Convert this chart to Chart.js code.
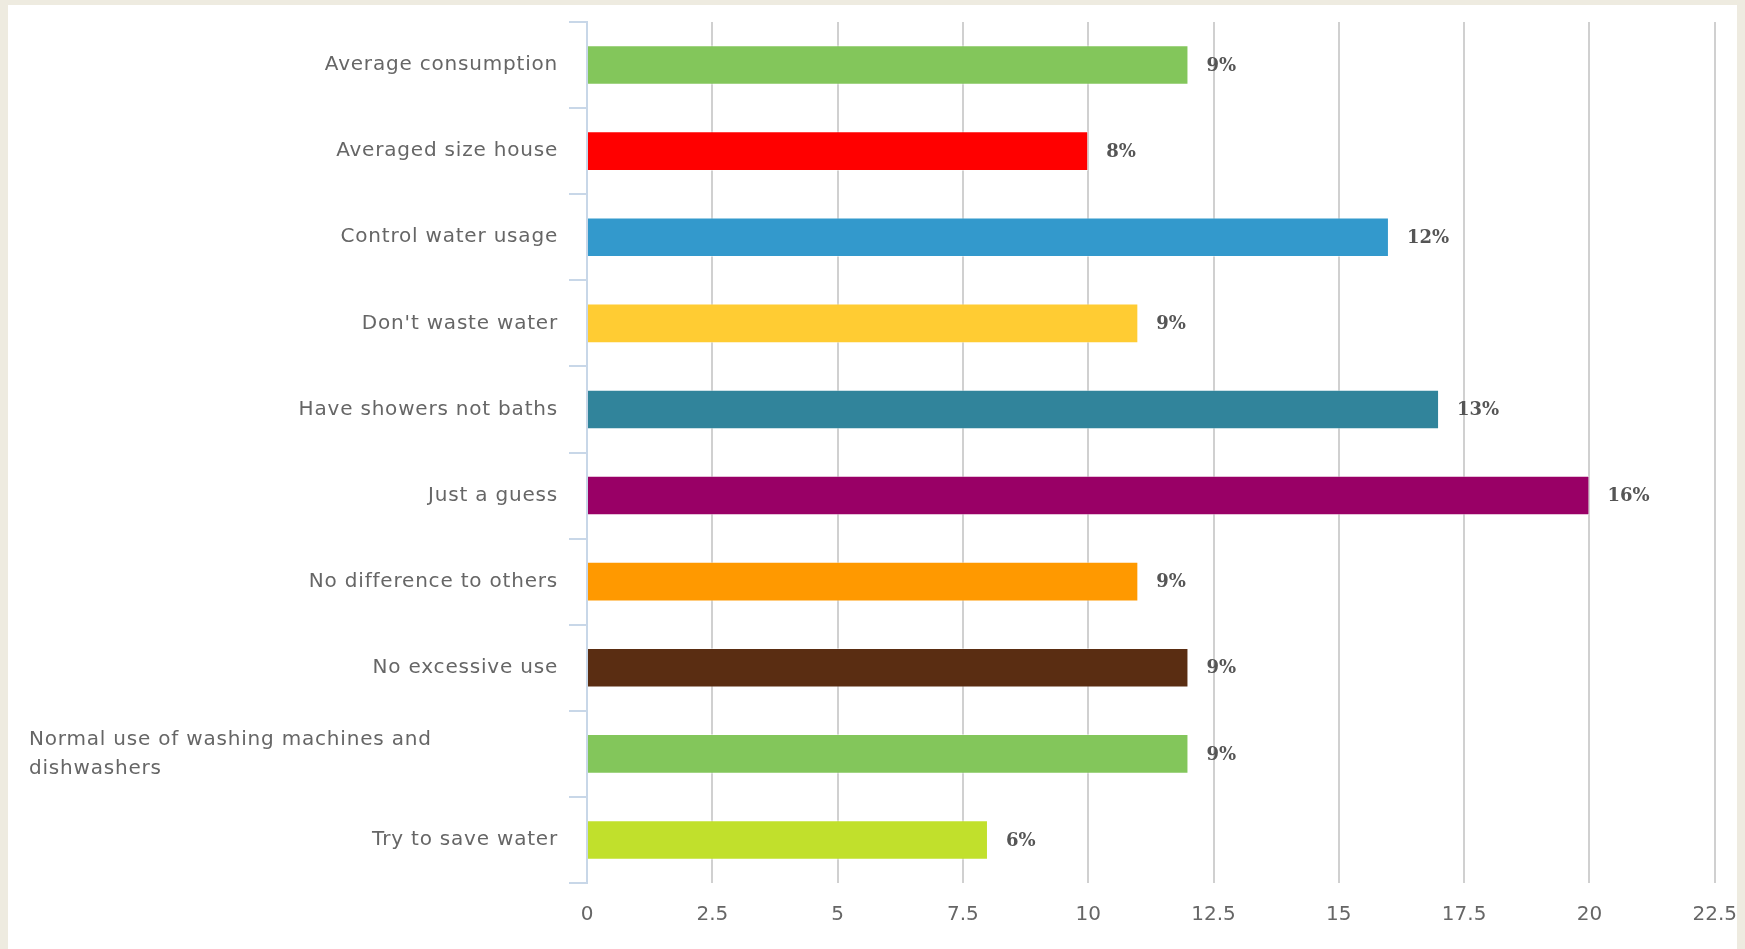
<!DOCTYPE html>
<html>
<head>
<meta charset="utf-8">
<script src="https://cdn.jsdelivr.net/npm/chart.js@4"></script>
<style>
  body { margin: 0; background: #EEEBE0; }
  #panel { position: absolute; left: 8px; top: 5px; width: 1729px; height: 944px; background: #ffffff; }
  canvas { display: block; }
</style>
</head>
<body>
<div id="panel"><canvas id="waterChart" width="1729" height="944"></canvas></div>
<script>
// Chart values
const categories = [
  "Average consumption",
  "Averaged size house",
  "Control water usage",
  "Don't waste water",
  "Have showers not baths",
  "Just a guess",
  "No difference to others",
  "No excessive use",
  ["Normal use of washing machines and", "dishwashers"],
  "Try to save water"
];
const responses = [12, 10, 16, 11, 17, 20, 11, 12, 12, 8];
const shareLabels = ["9%", "8%", "12%", "9%", "13%", "16%", "9%", "9%", "9%", "6%"];
const barColors = ["#83C65B", "#FF0000", "#3399CC", "#FFCC33", "#31849B", "#990066", "#FF9900", "#5A2D12", "#83C65B", "#C1E02C"];
const xTicks = [0, 2.5, 5, 7.5, 10, 12.5, 15, 17.5, 20, 22.5];

// category labels: single lines sit right next to the axis, the wrapped one is left aligned
const categoryLabels = {
  id: "categoryLabels",
  afterDraw(chart) {
    const ctx = chart.ctx;
    const yScale = chart.scales.y;
    ctx.save();
    ctx.font = '20px "DejaVu Sans"';
    ctx.letterSpacing = "0.8px";
    ctx.fillStyle = "#666666";
    ctx.textBaseline = "middle";
    categories.forEach((label, i) => {
      const y = yScale.getPixelForTick(i);
      if (Array.isArray(label)) {
        ctx.textAlign = "left";
        const lh = 29;
        label.forEach((line, j) => {
          ctx.fillText(line, 21, y + (j - (label.length - 1) / 2) * lh);
        });
      } else {
        ctx.textAlign = "right";
        ctx.fillText(label, 550, y);
      }
    });
    ctx.restore();
  }
};

// percentage labels at the end of each bar
const shareText = {
  id: "shareText",
  afterDatasetsDraw(chart) {
    const ctx = chart.ctx;
    const bars = chart.getDatasetMeta(0).data;
    ctx.save();
    ctx.font = 'bold 18px "DejaVu Serif"';
    ctx.fillStyle = "#555555";
    ctx.textAlign = "left";
    ctx.textBaseline = "middle";
    bars.forEach((bar, i) => {
      ctx.fillText(shareLabels[i], bar.x + 18, bar.y + 1);
    });
    ctx.restore();
  }
};

const ctx = document.getElementById("waterChart").getContext("2d");

new Chart(ctx, {
  type: "bar",
  data: {
    labels: categories,
    datasets: [{
      label: "Responses",
      data: responses,
      backgroundColor: barColors,
      borderColor: "rgba(255, 255, 255, 0.45)",
      borderWidth: 1,
      barPercentage: 0.46,
      categoryPercentage: 1.0
    }]
  },
  options: {
    indexAxis: "y",
    responsive: false,
    animation: false,
    devicePixelRatio: 1,
    layout: {
      padding: { top: 17, right: 0, left: 0, bottom: 0 }
    },
    plugins: {
      legend: { display: false },
      tooltip: { enabled: false }
    },
    scales: {
      y: {
        type: "category",
        offset: true,
        grid: {
          display: true,
          drawOnChartArea: false,
          drawTicks: true,
          tickLength: 18,
          offset: true,
          color: "#C8D7E8",
          lineWidth: 2
        },
        border: { display: true, color: "#C8D7E8", width: 2 },
        ticks: { display: false },
        afterFit: function(scale) {
          scale.width = 579;
        }
      },
      x: {
        type: "linear",
        min: 0,
        max: 22.5,
        afterBuildTicks: function(scale) {
          scale.ticks = xTicks.map(v => ({ value: v }));
        },
        grid: {
          color: "#D0D0D0",
          lineWidth: 2,
          drawTicks: true,
          tickLength: 20,
          tickColor: "rgba(0, 0, 0, 0)"
        },
        border: { display: false },
        ticks: {
          color: "#666666",
          font: { family: "DejaVu Sans", size: 20 },
          padding: 0,
          maxRotation: 0,
          autoSkip: false,
          callback: function(value) {
            return String(value);
          }
        },
        afterFit: function(scale) {
          scale.height = 66;
        }
      }
    }
  },
  plugins: [categoryLabels, shareText]
});
</script>
</body>
</html>
